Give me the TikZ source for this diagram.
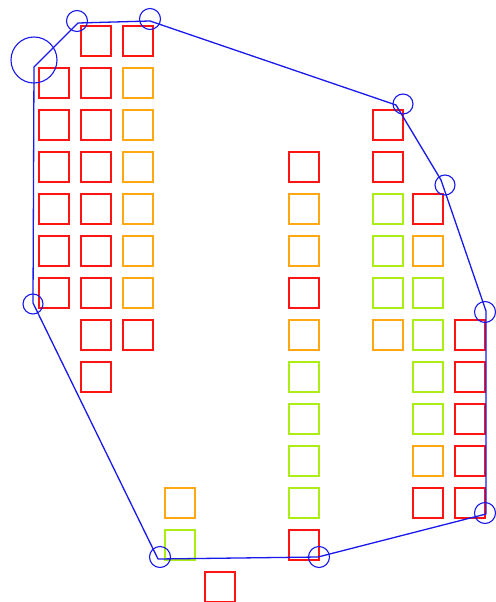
\documentclass[tikz,border=0pt]{standalone}
\usepackage{tikz}

\definecolor{cr}{RGB}{255,20,20}
\definecolor{co}{RGB}{255,168,20}
\definecolor{cg}{RGB}{170,238,20}
\definecolor{hull}{RGB}{25,25,235}

\begin{document}
\begin{tikzpicture}[x=1pt,y=-1pt]
\useasboundingbox (0,0) rectangle (495,602);
% cells, column by column: left edge / {row top / colour}
\foreach \x/\cells in {
  39/{68/cr,110/cr,152/cr,194/cr,236/cr,278/cr},
  81/{26/cr,68/cr,110/cr,152/cr,194/cr,236/cr,278/cr,320/cr,362/cr},
  123/{26/cr,68/co,110/co,152/co,194/co,236/co,278/co,320/cr},
  165/{488/co,530/cg},
  205/{572/cr},
  289/{152/cr,194/co,236/co,278/cr,320/co,362/cg,404/cg,446/cg,488/cg,530/cr},
  373/{110/cr,152/cr,194/cg,236/cg,278/cg,320/co},
  413/{194/cr,236/co,278/cg,320/cg,362/cg,404/cg,446/co,488/cr},
  455/{320/cr,362/cr,404/cr,446/cr,488/cr}}
  \foreach \y/\c in \cells
    \draw[\c,line width=1.7pt] (\x,\y) rectangle ++(30,30);
% hull corners
\coordinate (h1) at (34,67);
\coordinate (h2) at (78,23);
\coordinate (h3) at (150,21);
\coordinate (h4) at (396,105);
\coordinate (h5) at (441,180);
\coordinate (h6) at (486,311);
\coordinate (h7) at (486,514);
\coordinate (h8) at (318,557);
\coordinate (h9) at (158,559);
\coordinate (h10) at (33,303);
\draw[hull,line width=1.3pt,line join=round]
  (h1)--(h2)--(h3)--(h4)--(h5)--(h6)--(h7)--(h8)--(h9)--(h10)--cycle;
% markers on the corners
\begin{scope}[hull,line width=1.1pt]
\draw (34,60) circle (23);
\draw (77,21) circle (10.5);
\draw (150,19) circle (10.5);
\draw (403,104) circle (10);
\draw (445,185) circle (10);
\draw (485,312) circle (10.5);
\draw (485,513) circle (10.5);
\draw (319,557) circle (10.5);
\draw (160,557) circle (10.5);
\draw (33,304) circle (10);
\end{scope}
\end{tikzpicture}
\end{document}
